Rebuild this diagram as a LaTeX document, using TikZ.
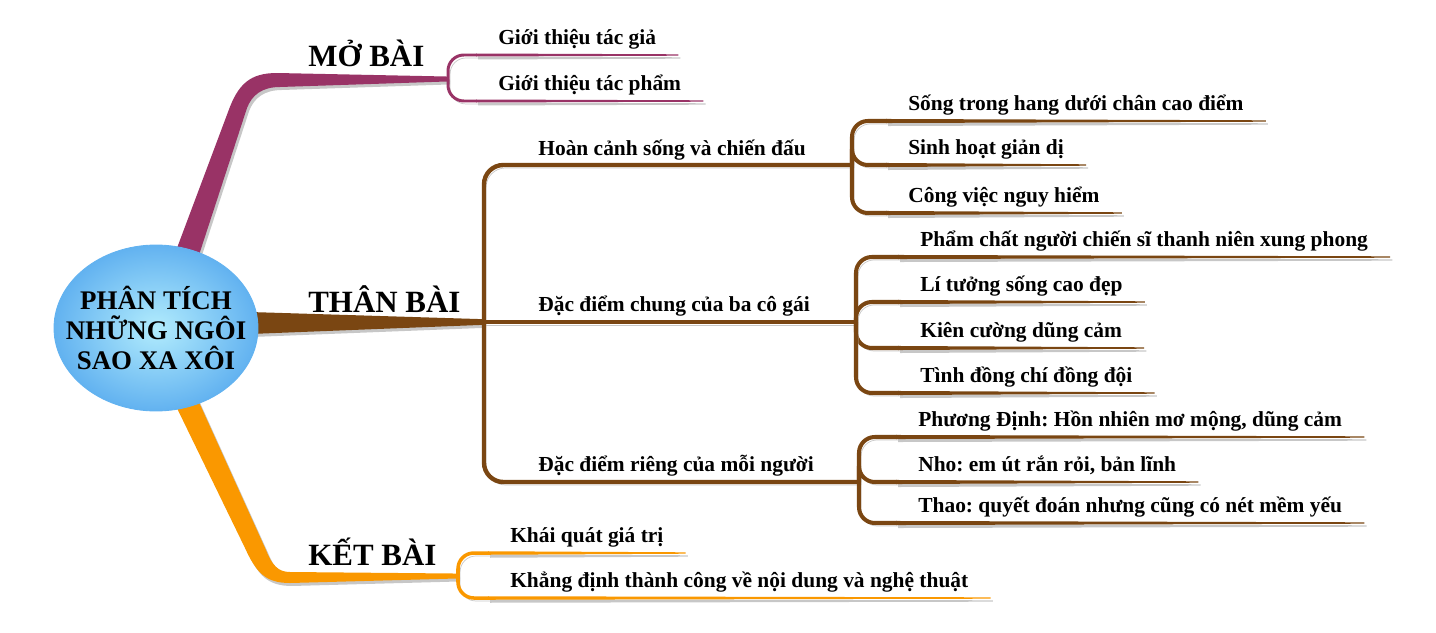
\documentclass[tikz,border=0pt]{standalone}
\usepackage{fontspec}
\setmainfont{Liberation Serif}
\frenchspacing
\usetikzlibrary{shapes.geometric}

\definecolor{mbcolor}{RGB}{153,51,102}
\definecolor{tbcolor}{RGB}{122,70,18}
\definecolor{kbcolor}{RGB}{250,152,0}
\definecolor{rootlight}{RGB}{178,236,253}
\definecolor{rootdark}{RGB}{98,178,240}
\colorlet{shadowcolor}{black!22}

\tikzset{
  shadowline/.style={preaction={draw=shadowcolor, transform canvas={xshift=1.2pt,yshift=-1.7pt}}},
  shadowfill/.style={preaction={fill=shadowcolor, transform canvas={xshift=1.2pt,yshift=-1.7pt}}},
  part/.style={inner sep=0pt, anchor=base west, font=\fontsize{17.6}{20}\selectfont\bfseries},
  topic/.style={inner sep=0pt, anchor=base west, font=\fontsize{12.2}{14}\selectfont\bfseries},
  leaf/.style={inner xsep=12.5pt, inner ysep=0pt, text depth=5.7pt, anchor=south west,
    font=\fontsize{12.2}{14}\selectfont\bfseries},
  bough/.style={shadowline, line width=2.5pt, rounded corners=11pt},
}

% fork -> underline of a leaf
\newcommand\twig[4]{%
  \draw[#1, shadowline, line width=#2, rounded corners=9pt] (#3) |- ([xshift=0.5pt]#4.south west);
  \fill[#1, shadowfill]
    ([yshift=-#2/2]#4.south west) -- ([yshift=-0.4pt]#4.south east)
    -- ([yshift=0.4pt]#4.south east) -- ([yshift=#2/2]#4.south west) -- cycle;
}

\begin{document}
\begin{tikzpicture}[x=0.02cm, y=-0.02cm]
\useasboundingbox (0,0) rectangle (1436,632);

\coordinate (mbfork) at (448,79);
\coordinate (tbfork) at (484,322);
\coordinate (kbfork) at (458,576);
\coordinate (hcfork) at (852,165);
\coordinate (dcfork) at (856,322);
\coordinate (drfork) at (859,482);

% thick limbs
\fill[mbcolor, shadowfill] (174,256) -- (228,112) .. controls (238,84) and (250,73) .. (277,73)
  -- ([yshift=1.4pt]mbfork) -- ([yshift=-1.4pt]mbfork) -- (280,87)
  .. controls (262,87) and (252,95) .. (247,108) -- (198,258) -- cycle;
\fill[tbcolor, shadowfill] (250,312) -- ([yshift=1.6pt]tbfork) -- ([yshift=-1.6pt]tbfork)
  -- (250,334) -- cycle;
\fill[kbcolor, shadowfill] (174,402) -- (245,548) .. controls (256,572) and (265,583) .. (290,583)
  -- ([yshift=-1.4pt]kbfork) -- ([yshift=1.4pt]kbfork) -- (290,572)
  .. controls (278,572) and (272,565) .. (266,550) -- (198,400) -- cycle;

\node[ellipse, minimum width=4.08cm, minimum height=3.32cm, inner sep=0pt,
  draw=rootdark, line width=0.5pt, inner color=rootlight, outer color=rootdark]
  (root) at (156,328) {};
\node[align=center, font=\fontsize{15.3}{17.2}\selectfont\bfseries]
  (title) at (root.center) {PHÂN TÍCH\\NHỮNG NGÔI\\SAO XA XÔI};

\node[part] (mb) at (308,66) {MỞ BÀI};
\node[part] (tb) at (308,312) {THÂN BÀI};
\node[part] (kb) at (308,565) {KẾT BÀI};

% THÂN BÀI
\node[topic] (hc) at (538,155) {Hoàn cảnh sống và chiến đấu};
\node[topic] (dc) at (538,311) {Đặc điểm chung của ba cô gái};
\node[topic] (dr) at (538,471) {Đặc điểm riêng của mỗi người};
\draw[tbcolor, bough] (tbfork) |- (hcfork);
\draw[tbcolor, bough] (tbfork) -- (dcfork);
\draw[tbcolor, bough] (tbfork) |- (drfork);

\node[leaf] (mb1) at (476,55) {Giới thiệu tác giả};
\node[leaf] (mb2) at (476,101) {Giới thiệu tác phẩm};
\node[leaf] (hc1) at (886,121) {Sống trong hang dưới chân cao điểm};
\node[leaf] (hc2) at (886,165) {Sinh hoạt giản dị};
\node[leaf] (hc3) at (886,213) {Công việc nguy hiểm};
\node[leaf] (dc1) at (898,257) {Phẩm chất người chiến sĩ thanh niên xung phong};
\node[leaf] (dc2) at (898,302) {Lí tưởng sống cao đẹp};
\node[leaf] (dc3) at (898,348) {Kiên cường dũng cảm};
\node[leaf] (dc4) at (898,393) {Tình đồng chí đồng đội};
\node[leaf] (dr1) at (896,437) {Phương Định: Hồn nhiên mơ mộng, dũng cảm};
\node[leaf] (dr2) at (896,482) {Nho: em út rắn rỏi, bản lĩnh};
\node[leaf] (dr3) at (896,523) {Thao: quyết đoán nhưng cũng có nét mềm yếu};
\node[leaf] (kb1) at (488,553) {Khái quát giá trị};
\node[leaf] (kb2) at (488,598) {Khẳng định thành công về nội dung và nghệ thuật};

\foreach \l in {mb1,mb2} {\twig{mbcolor}{1.7pt}{mbfork}{\l}}
\foreach \l in {hc1,hc2,hc3} {\twig{tbcolor}{2.3pt}{hcfork}{\l}}
\foreach \l in {dc1,dc2,dc3,dc4} {\twig{tbcolor}{2.3pt}{dcfork}{\l}}
\foreach \l in {dr1,dr2,dr3} {\twig{tbcolor}{2.3pt}{drfork}{\l}}
\foreach \l in {kb1,kb2} {\twig{kbcolor}{2pt}{kbfork}{\l}}
\end{tikzpicture}
\end{document}
